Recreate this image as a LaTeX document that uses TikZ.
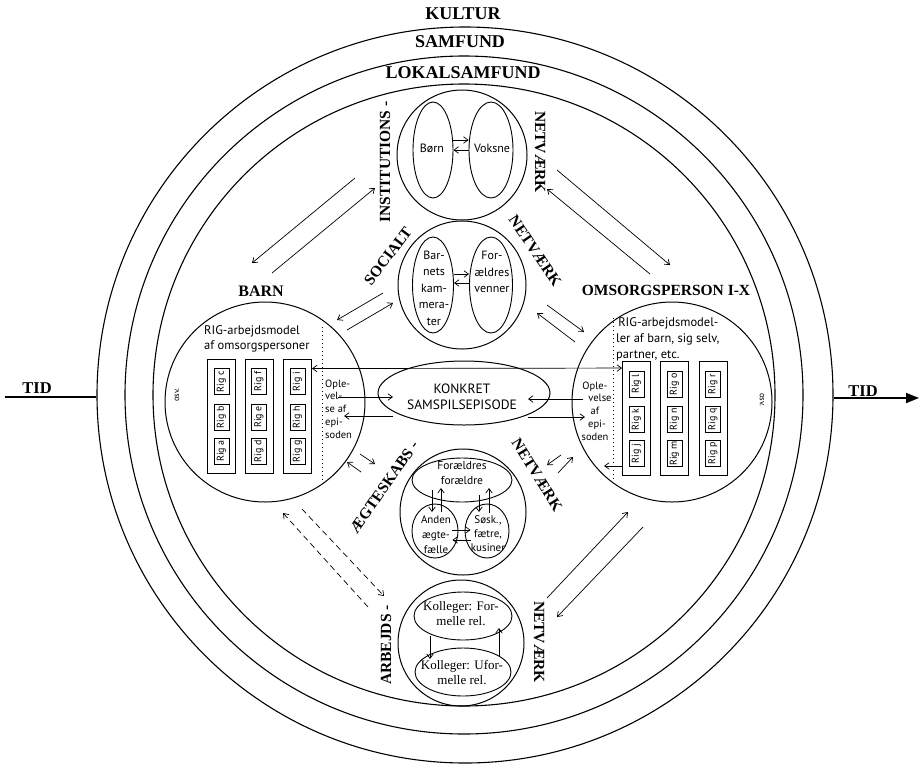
\documentclass[tikz,border=0pt]{standalone}
\usepackage{fontspec}
\setmainfont{Liberation Serif}
\newfontfamily\hsf{PT Sans}
\usetikzlibrary{shapes.geometric,arrows.meta,calc}
\begin{document}
\begin{tikzpicture}[x=1pt,y=-1pt,
  ring/.style={circle, draw, line width=1.1pt, inner sep=0pt},
  sub/.style={ellipse, draw, line width=0.9pt, inner sep=0pt},
  big/.style={font=\bfseries\fontsize{18}{20}\selectfont},
  lab/.style={font=\bfseries\fontsize{15.5}{17}\selectfont, inner sep=0pt},
  sm/.style={font=\hsf\fontsize{12}{16}\selectfont, align=center, inner sep=0pt},
  arr/.style={-{Straight Barb[length=4.5pt,width=6.5pt]}, line width=0.7pt},
  darr/.style={arr, dash pattern=on 6pt off 4pt},
  colbox/.style={draw, line width=0.9pt, minimum width=28pt, minimum height=114pt, inner sep=0pt},
  rig/.style={draw, line width=0.8pt, minimum width=26pt, minimum height=15pt, inner sep=0pt, rotate=90, font=\hsf\fontsize{10}{11}\selectfont},
  dotline/.style={line width=1pt, dash pattern=on 1pt off 3pt},
]
\useasboundingbox (0,0) rectangle (923,769);

% rings
\node[ring, minimum size=736pt] (kultur) at (465,395) {};
\node[ring, minimum size=678pt] (samf) at (464,395) {};
\node[ring, minimum size=622pt] (lokal) at (464,395) {};
\node[big] (tk) at (463,14) {KULTUR};
\node[big] (ts) at (460,42) {SAMFUND};
\node[big] (tl) at (463,73) {LOKALSAMFUND};

% time axis
\coordinate (tl0) at (5,397);
\coordinate (tr1) at (919,398);
\draw[line width=1.8pt] (tl0) -- (tl0 -| kultur.west);
\draw[line width=1.8pt, -{Triangle[length=13pt,width=10pt]}] (tr1 -| kultur.east) -- (tr1);
\node[lab, font=\bfseries\fontsize{16.5}{18}\selectfont] (tidl) at (37,388) {TID};
\node[lab, font=\bfseries\fontsize{16.5}{18}\selectfont] (tidr) at (863,391) {TID};

% network circles
\node[ring, line width=1pt, minimum size=130pt] (inst) at (462,155) {};
\node[ring, line width=1pt, minimum size=128pt] (soc) at (462,285) {};
\node[ring, line width=1pt, minimum size=126pt] (aegt) at (463,512) {};
\node[ring, line width=1pt, minimum size=126pt] (arb) at (461,643) {};

% institutions network
\node[sub, minimum width=40pt, minimum height=96pt] (born) at (433,150) {};
\node[sub, minimum width=44pt, minimum height=96pt] (voks) at (491,150) {};
\node[sm] (tborn) at (432,148) {Børn};
\node[sm] (tvoks) at (492,148) {Voksne};
\draw[arr] ($(born.east)+(0,-10)$) -- ($(voks.west)+(0,-10)$);
\draw[arr] (voks.west) -- (born.west -| born.east);
\node[lab, rotate=90] (tinst) at (385,162) {INSTITUTIONS -};
\node[lab, rotate=-90] (tnet1) at (540,152) {NETVÆRK};

% social network
\node[sub, minimum width=41pt, minimum height=96pt] (bark) at (433,285) {};
\node[sub, minimum width=43pt, minimum height=96pt] (forv) at (491,285) {};
\node[sm, font=\hsf\fontsize{12}{16.5}\selectfont] (tbark) at (434,288) {Bar-\\nets\\kam-\\mera-\\ter};
\node[sm, font=\hsf\fontsize{12}{16.5}\selectfont] (tforv) at (492,272) {For-\\ældres\\venner};
\draw[arr] ($(bark.east)+(0,-11)$) -- ($(forv.west)+(0,-11)$);
\draw[arr] ($(forv.west)+(0,-2)$) -- ($(bark.east)+(0,-2)$);
\node[lab, rotate=53] (tsoc) at (388,256) {SOCIALT};
\node[lab, rotate=-56] (tnet2) at (535,251) {NETVÆRK};

% marriage network
\node[sub, minimum width=100pt, minimum height=44pt] (forf) at (462,480) {};
\node[sub, minimum width=46pt, minimum height=54pt] (anden) at (435,531) {};
\node[sub, minimum width=44pt, minimum height=54pt] (sosk) at (487,531) {};
\node[sm, font=\hsf\fontsize{11.5}{14.5}\selectfont] (tforf) at (462,473) {Forældres\\forældre};
\node[sm, font=\hsf\fontsize{11}{15}\selectfont] (tanden) at (436,535) {Anden\\ægte-\\fælle};
\node[sm, font=\hsf\fontsize{11}{14}\selectfont] (tsosk) at (488,534) {Søsk.,\\fætre,\\kusiner};
\coordinate (m1a) at (432,490); \coordinate (m1b) at (432,512);
\coordinate (m2a) at (441,512); \coordinate (m2b) at (441,488);
\coordinate (m3a) at (479,495); \coordinate (m3b) at (479,512);
\coordinate (m4a) at (489,513); \coordinate (m4b) at (489,488);
\draw[arr] (m1a) -- (m1b);
\draw[arr] (m2a) -- (m2b);
\draw[arr] (m3a) -- (m3b);
\draw[arr] (m4a) -- (m4b);
\draw[arr] ($(anden.east)+(-6,-1)$) -- ($(sosk.west)+(6,-1)$);
\draw[arr] ($(sosk.west)+(6,9)$) -- ($(anden.east)+(-6,9)$);
\node[lab, rotate=55] (taegt) at (384,487) {ÆGTESKABS -};
\node[lab, rotate=-58] (tnet3) at (537,475) {NETVÆRK};

% work network
\node[sub, minimum width=98pt, minimum height=48pt] (kf) at (463,616) {};
\node[sub, minimum width=96pt, minimum height=48pt] (ku) at (463,672) {};
\node[font=\fontsize{13}{15}\selectfont, align=center, inner sep=0pt] (tkf) at (461,614) {Kolleger: For-\\melle rel.};
\node[font=\fontsize{13}{15}\selectfont, align=center, inner sep=0pt] (tku) at (462,673) {Kolleger: Ufor-\\melle rel.};
\coordinate (w1a) at (430,636); \coordinate (w1b) at (430,659);
\coordinate (w2a) at (499,657); \coordinate (w2b) at (499,628);
\draw[arr] (w1a) -- (w1b);
\draw[arr] (w2a) -- (w2b);
\node[lab, rotate=90] (tarb) at (386,645) {ARBEJDS -};
\node[lab, rotate=-90] (tnet4) at (539,642) {NETVÆRK};

% person circles
\node[ring, line width=1pt, minimum size=200pt] (barn) at (265,402) {};
\node[ring, line width=1pt, minimum size=200pt] (oms) at (672,402) {};
\node[lab, font=\bfseries\fontsize{16}{18}\selectfont] (tbarn) at (261,291) {BARN};
\node[lab] (toms) at (666,290) {OMSORGSPERSON I-X};

\node[font=\hsf\fontsize{12.5}{15}\selectfont, align=left, anchor=west, inner sep=0pt] (rigl) at (204,339) {RIG-arbejdsmodel\\af omsorgspersoner};
\node[font=\hsf\fontsize{12.5}{16}\selectfont, align=left, anchor=west, inner sep=0pt] (rigr) at (616,339) {\,RIG-arbejdsmodel-\\ler af barn, sig selv,\\partner, etc.};

% columns
\foreach \n/\x/\y/\a/\b/\c in {L1/221.5/416/c/b/a, L2/259/416/f/e/d, L3/297.5/416/i/h/g,
                               R1/636.5/418.5/l/k/j, R2/674.5/418.5/o/n/m, R3/713/418.5/r/q/p} {
  \node[colbox] (\n) at (\x,\y) {};
  \node[rig] (\n-t) at ($(\n.center)+(0,-34.5)$) {Rig \a};
  \node[rig] (\n-m) at ($(\n.center)+(0,1)$) {Rig \b};
  \node[rig] (\n-b) at ($(\n.center)+(0,35)$) {Rig \c};
}

% dotted separators
\draw[dotline] (322,327) -- (322,482);
\draw[dotline] (613,318) -- (613,480);

\node[font=\hsf\fontsize{8.5}{9}\selectfont, rotate=90, inner sep=0pt] (osvl) at (177,395) {osv.};
\node[font=\hsf\fontsize{8.5}{9}\selectfont, rotate=-90, inner sep=0pt] (osvr) at (762,400) {osv.};

\node[font=\hsf\fontsize{10.5}{12.8}\selectfont, align=left, anchor=west, inner sep=0pt] (oplL) at (325,409) {Ople-\\vel-\\se af\\epi-\\soden};
\node[font=\hsf\fontsize{10.5}{12.8}\selectfont, align=center, inner sep=0pt] (oplR) at (595,411) {Ople-\\\hspace*{10pt}velse\\af\\\hspace*{4pt}epi-\\soden};

% central episode
\node[sub, line width=1pt, minimum width=172pt, minimum height=64pt] (kon) at (464,393) {};
\node[font=\hsf\fontsize{13.5}{16}\selectfont, align=center, inner sep=0pt] (tkon) at (462,397) {KONKRET\\SAMSPILSEPISODE};

% arrows between RIG models and episode
\draw[{Straight Barb[length=4.5pt,width=6.5pt]}-{Straight Barb[length=4.5pt,width=6.5pt]}, line width=0.7pt]
  ($(L3.north east)+(0,10)$) -- ($(R1.north west)+(0,7)$);
\draw[arr] ($(R1.south west)+(0,-10)$) -- ($(R1.south west)+(-18,-10)$);
\coordinate (e1) at (338,397); \coordinate (e2) at (393,397);
\coordinate (e3) at (393,416); \coordinate (e4) at (344,416);
\coordinate (e5) at (583,399); \coordinate (e6) at (528,399);
\coordinate (e7) at (528,417); \coordinate (e8) at (585,417);
\draw[arr] (e1) -- (e2);
\draw[arr] (e3) -- (e4);
\draw[arr] (e5) -- (e6);
\draw[arr] (e7) -- (e8);

% arrows between persons and networks
\coordinate (d1a) at (355,178); \coordinate (d1b) at (252,263);
\coordinate (d2a) at (272,273); \coordinate (d2b) at (375,188);
\coordinate (d3a) at (557,170); \coordinate (d3b) at (670,265);
\coordinate (d4a) at (650,274); \coordinate (d4b) at (547,189);
\coordinate (d5a) at (383,293); \coordinate (d5b) at (337,320);
\coordinate (d6a) at (347,330); \coordinate (d6b) at (393,303);
\coordinate (d7a) at (547,305); \coordinate (d7b) at (584,332);
\coordinate (d8a) at (575,342); \coordinate (d8b) at (537,313);
\coordinate (d9a) at (361,472); \coordinate (d9b) at (347,462);
\coordinate (d10a) at (360,454); \coordinate (d10b) at (375,464);
\coordinate (d11a) at (561,455); \coordinate (d11b) at (547,465);
\coordinate (d12a) at (558,473); \coordinate (d12b) at (573,457);
\coordinate (d13a) at (368,607); \coordinate (d13b) at (283,513);
\coordinate (d14a) at (302,509); \coordinate (d14b) at (384,596);
\coordinate (d15a) at (547,598); \coordinate (d15b) at (628,512);
\coordinate (d16a) at (643,527); \coordinate (d16b) at (557,617);
\foreach \i in {1,...,12,15,16} { \draw[arr] (d\i a) -- (d\i b); }
\draw[darr] (d13a) -- (d13b);
\draw[darr] (d14a) -- (d14b);
\end{tikzpicture}
\end{document}
